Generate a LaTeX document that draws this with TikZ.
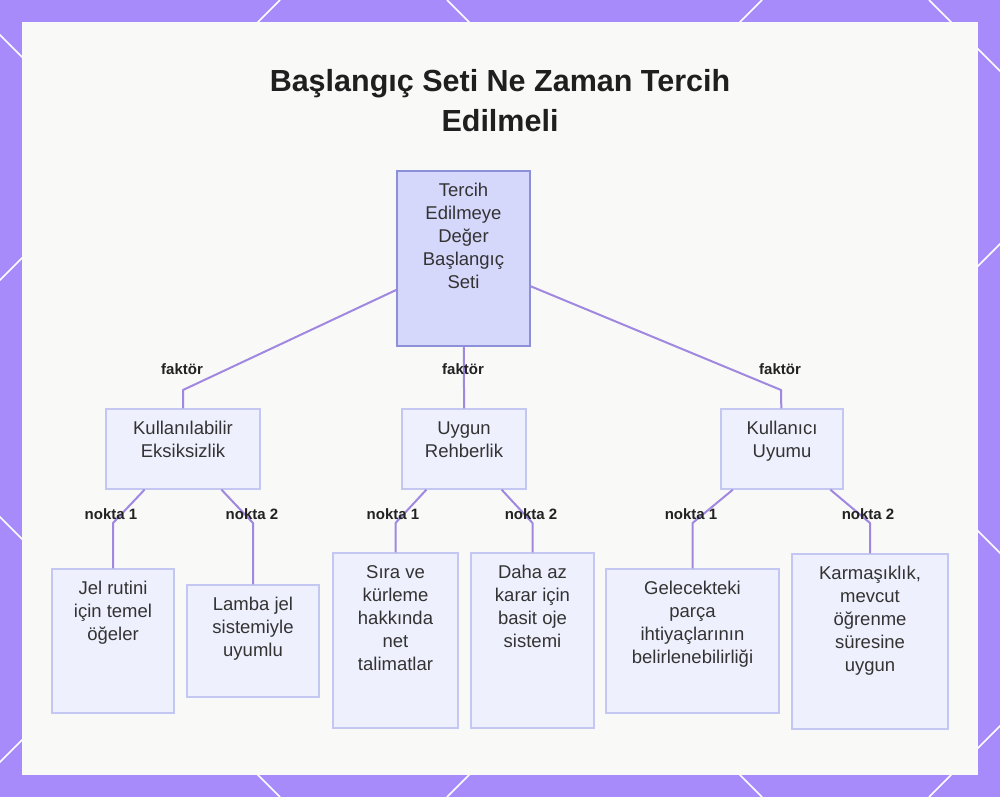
\documentclass[tikz,border=0pt]{standalone}
\usepackage{fontspec}
\setmainfont{Liberation Sans}
\usetikzlibrary{calc}

\definecolor{cerceve}{HTML}{A78BFA}
\definecolor{zemin}{HTML}{F9F9F8}
\definecolor{kokdolgu}{HTML}{D5D8FB}
\definecolor{kokkenar}{HTML}{8C90D9}
\definecolor{kutudolgu}{HTML}{EEF0FD}
\definecolor{kutukenar}{HTML}{C3C7F2}
\definecolor{kenarrenk}{HTML}{A088E0}
\definecolor{yazirenk}{HTML}{333333}
\definecolor{etiketrenk}{HTML}{222222}

\begin{document}
\begin{tikzpicture}[x=1pt,y=-1pt,
	kutu/.style={draw=kutukenar,fill=kutudolgu,line width=1.4pt,inner sep=0pt},
	kokkutu/.style={kutu,draw=kokkenar,fill=kokdolgu},
	yazi/.style={anchor=north,align=center,inner sep=0pt,text=yazirenk,
		font=\fontsize{18.5}{23}\selectfont,execute at begin node=\strut},
	baslik/.style={anchor=north,align=center,inner sep=0pt,text=black!88,
		font=\bfseries\fontsize{30.5}{40}\selectfont,execute at begin node=\strut},
	kenar/.style={draw=kenarrenk,line width=2pt,line join=round},
	etiket/.style={font=\bfseries\fontsize{15}{18}\selectfont,text=etiketrenk,inner sep=0pt}]

\useasboundingbox (0,0) rectangle (1000,797);

%
% Rahmen mit Rautenmuster
%
\fill[cerceve] (0,0) rectangle (1000,797);
\begin{scope}
	\clip (0,0) rectangle (1000,797);
	\foreach \c in {280,762,1244,1726}
		\draw[white,line width=1.5pt] (\c,0) -- ({\c-797},797);
	\foreach \c in {-517,-35,447,929}
		\draw[white,line width=1.5pt] (\c,0) -- ({\c+797},797);
\end{scope}
\fill[zemin] (22,22) rectangle (978,775);

\node[baslik] (baslik) at (500,68.8) {Başlangıç Seti Ne Zaman Tercih\\Edilmeli};

%
% Kästen
%
\node[kokkutu,minimum width=133pt,minimum height=175pt] (kok) at (463.5,258.5) {};
\node[yazi] (kok-y) at ([yshift=-13pt]kok.north) {Tercih\\Edilmeye\\Değer\\Başlangıç\\Seti};

\foreach \ad/\x/\y/\w/\h/\metin in {
	kul/183/449/154/80/{Kullanılabilir\\Eksiksizlik},
	uyg/464/449/124/80/{Uygun\\Rehberlik},
	kuy/782/449/122/80/{Kullanıcı\\Uyumu},
	jel/113/641/122/144/{Jel rutini\\için temel\\öğeler},
	lamba/253/641/132/112/{Lamba jel\\sistemiyle\\uyumlu},
	sira/395.5/640.5/125/175/{Sıra ve\\kürleme\\hakkında\\net\\talimatlar},
	daha/532.5/640.5/123/175/{Daha az\\karar için\\basit oje\\sistemi},
	gelecek/692.5/641/173/144/{Gelecekteki\\parça\\ihtiyaçlarının\\belirlenebilirliği},
	karmasik/870/641.5/156/175/{Karmaşıklık,\\mevcut\\öğrenme\\süresine\\uygun}}{
	\node[kutu,minimum width=\w pt,minimum height=\h pt] (\ad) at (\x,\y) {};
	\node[yazi] (\ad-y) at ([yshift=-13pt]\ad.north) {\metin};
}

%
% Verbindungen
%
\foreach \alt/\bx in {kul/183,uyg/464,kuy/781}
	\draw[kenar] (kok) -- (\bx,390) -- (\alt);

\foreach \ust/\alt/\bx in {kul/jel/113,kul/lamba/253,uyg/sira/395.5,
		uyg/daha/532.5,kuy/gelecek/692.5,kuy/karmasik/870}
	\draw[kenar] (\ust) -- (\bx,523) -- (\alt);

\node[etiket] (f1) at (182,369.5) {faktör};
\node[etiket] (f2) at (463,369.5) {faktör};
\node[etiket] (f3) at (780,369.5) {faktör};

\node[etiket] (n1) at (111,514.5) {nokta 1};
\node[etiket] (n2) at (252,514.5) {nokta 2};
\node[etiket] (n3) at (393,514.5) {nokta 1};
\node[etiket] (n4) at (531,514.5) {nokta 2};
\node[etiket] (n5) at (691,514.5) {nokta 1};
\node[etiket] (n6) at (868,514.5) {nokta 2};

\end{tikzpicture}
\end{document}
